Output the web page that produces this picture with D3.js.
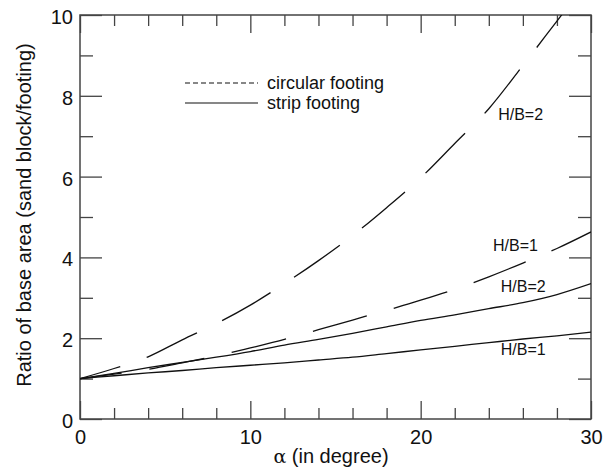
<!DOCTYPE html>
<html><head><meta charset="utf-8">
<script src="https://cdn.jsdelivr.net/npm/d3@7"></script>
<style>
body{margin:0;background:#fff;}
text{font-family:"Liberation Sans",Arial,sans-serif;fill:#111;}
</style></head>
<body><svg id="chart" width="604" height="469"></svg>
<script>
const alpha = [0,2,4,6,8,10,12,14,16,18,20,22,24,26,28,30];
const circularHB2 = [1.0,1.25,1.54,1.96,2.36,2.82,3.35,3.92,4.54,5.23,5.97,6.82,7.68,8.75,9.85,10.95];
const circularHB1 = [1.0,1.11,1.23,1.39,1.56,1.76,1.97,2.21,2.45,2.69,2.94,3.21,3.52,3.86,4.22,4.63];
const stripHB2 = [1.0,1.13,1.27,1.40,1.53,1.67,1.83,1.97,2.12,2.28,2.44,2.58,2.73,2.88,3.08,3.35];
const stripHB1 = [1.0,1.07,1.14,1.20,1.27,1.33,1.39,1.46,1.53,1.62,1.71,1.80,1.89,1.98,2.06,2.15];
const xMajor = [0,10,20,30];
const xMinor = [2,4,6,8,12,14,16,18,22,24,26,28];
const yMajor = [0,2,4,6,8,10];
const yMinor = [1,3,5,7,9];
const seriesLabels = [
  {text:"H/B=2", a:24.55, v:7.4},
  {text:"H/B=1", a:24.25, v:4.16},
  {text:"H/B=2", a:24.7, v:3.15},
  {text:"H/B=1", a:24.7, v:1.58}
];
const legendItems = [{text:"circular footing", dashed:true},{text:"strip footing", dashed:false}];

const svg = d3.select("#chart");
const L=80, R=591, T=15, B=419;
const x = d3.scaleLinear().domain([0,30]).range([L,R]);
const y = d3.scaleLinear().domain([0,10]).range([B,T]);

svg.append("defs").append("clipPath").attr("id","clip")
  .append("rect").attr("x",L).attr("y",T).attr("width",R-L).attr("height",B-T);

function styleAxis(g){
  g.select(".domain").remove();
  g.selectAll(".tick line").attr("stroke","#444").attr("stroke-width",1.3);
  g.selectAll("text").attr("font-size",20).attr("fill","#111");
}
svg.append("g").attr("transform",`translate(0,${B})`)
  .call(d3.axisBottom(x).tickValues(xMajor).tickSizeInner(-18).tickSizeOuter(0).tickPadding(11).tickFormat(d3.format("d")))
  .call(styleAxis);
svg.append("g").attr("transform",`translate(0,${B})`)
  .call(d3.axisBottom(x).tickValues(xMinor).tickSizeInner(-11).tickSizeOuter(0).tickFormat(""))
  .call(styleAxis);
svg.append("g").attr("transform",`translate(0,${T})`)
  .call(d3.axisTop(x).tickValues(xMajor).tickSizeInner(-18).tickSizeOuter(0).tickFormat(""))
  .call(styleAxis);
svg.append("g").attr("transform",`translate(0,${T})`)
  .call(d3.axisTop(x).tickValues(xMinor).tickSizeInner(-11).tickSizeOuter(0).tickFormat(""))
  .call(styleAxis);
const gl = svg.append("g").attr("transform",`translate(${L},0)`)
  .call(d3.axisLeft(y).tickValues(yMajor).tickSizeInner(-22).tickSizeOuter(0).tickPadding(7).tickFormat(d3.format("d")))
  .call(styleAxis);
gl.selectAll("text").attr("dy","0.42em");
svg.append("g").attr("transform",`translate(${L},0)`)
  .call(d3.axisLeft(y).tickValues(yMinor).tickSizeInner(-13).tickSizeOuter(0).tickFormat(""))
  .call(styleAxis);
svg.append("g").attr("transform",`translate(${R},0)`)
  .call(d3.axisRight(y).tickValues(yMajor).tickSizeInner(-22).tickSizeOuter(0).tickFormat(""))
  .call(styleAxis);
svg.append("g").attr("transform",`translate(${R},0)`)
  .call(d3.axisRight(y).tickValues(yMinor).tickSizeInner(-13).tickSizeOuter(0).tickFormat(""))
  .call(styleAxis);

svg.append("rect").attr("x",L).attr("y",T).attr("width",R-L).attr("height",B-T)
  .attr("fill","none").attr("stroke","#444").attr("stroke-width",1.5);

const line = d3.line().x(d=>x(d[0])).y(d=>y(d[1])).curve(d3.curveMonotoneX);
const series = [
  {vals:circularHB2, dashed:true},
  {vals:circularHB1, dashed:true},
  {vals:stripHB2, dashed:false},
  {vals:stripHB1, dashed:false}
];
const cg = svg.append("g").attr("clip-path","url(#clip)");
series.forEach(s=>{
  const p = cg.append("path").datum(alpha.map((a,i)=>[a,s.vals[i]]))
    .attr("d",line).attr("fill","none").attr("stroke","#111").attr("stroke-width",1.3);
  if(s.dashed) p.attr("stroke-dasharray","56,28").attr("stroke-dashoffset",14);
});

svg.selectAll("text.sl").data(seriesLabels).enter().append("text").attr("class","sl")
  .attr("x",d=>x(d.a)).attr("y",d=>y(d.v)).attr("font-size",16).text(d=>d.text);

legendItems.forEach((d,i)=>{
  const yy = 83 + i*20;
  svg.append("line").attr("x1",185).attr("x2",258).attr("y1",yy).attr("y2",yy)
    .attr("stroke","#111").attr("stroke-width",1.2)
    .attr("stroke-dasharray", d.dashed ? "5,3" : null);
  svg.append("text").attr("x",267).attr("y",yy+6).attr("font-size",18).text(d.text);
});

const xt = svg.append("text").attr("x",331).attr("y",463).attr("text-anchor","middle").attr("font-size",20);
xt.append("tspan").attr("font-family","'DejaVu Serif',serif").attr("font-size",19).text("α");
xt.append("tspan").text(" (in degree)");
svg.append("text").attr("transform","translate(31,215) rotate(-90)")
  .attr("text-anchor","middle").attr("font-size",20)
  .text("Ratio of base area (sand block/footing)");
</script></body></html>
